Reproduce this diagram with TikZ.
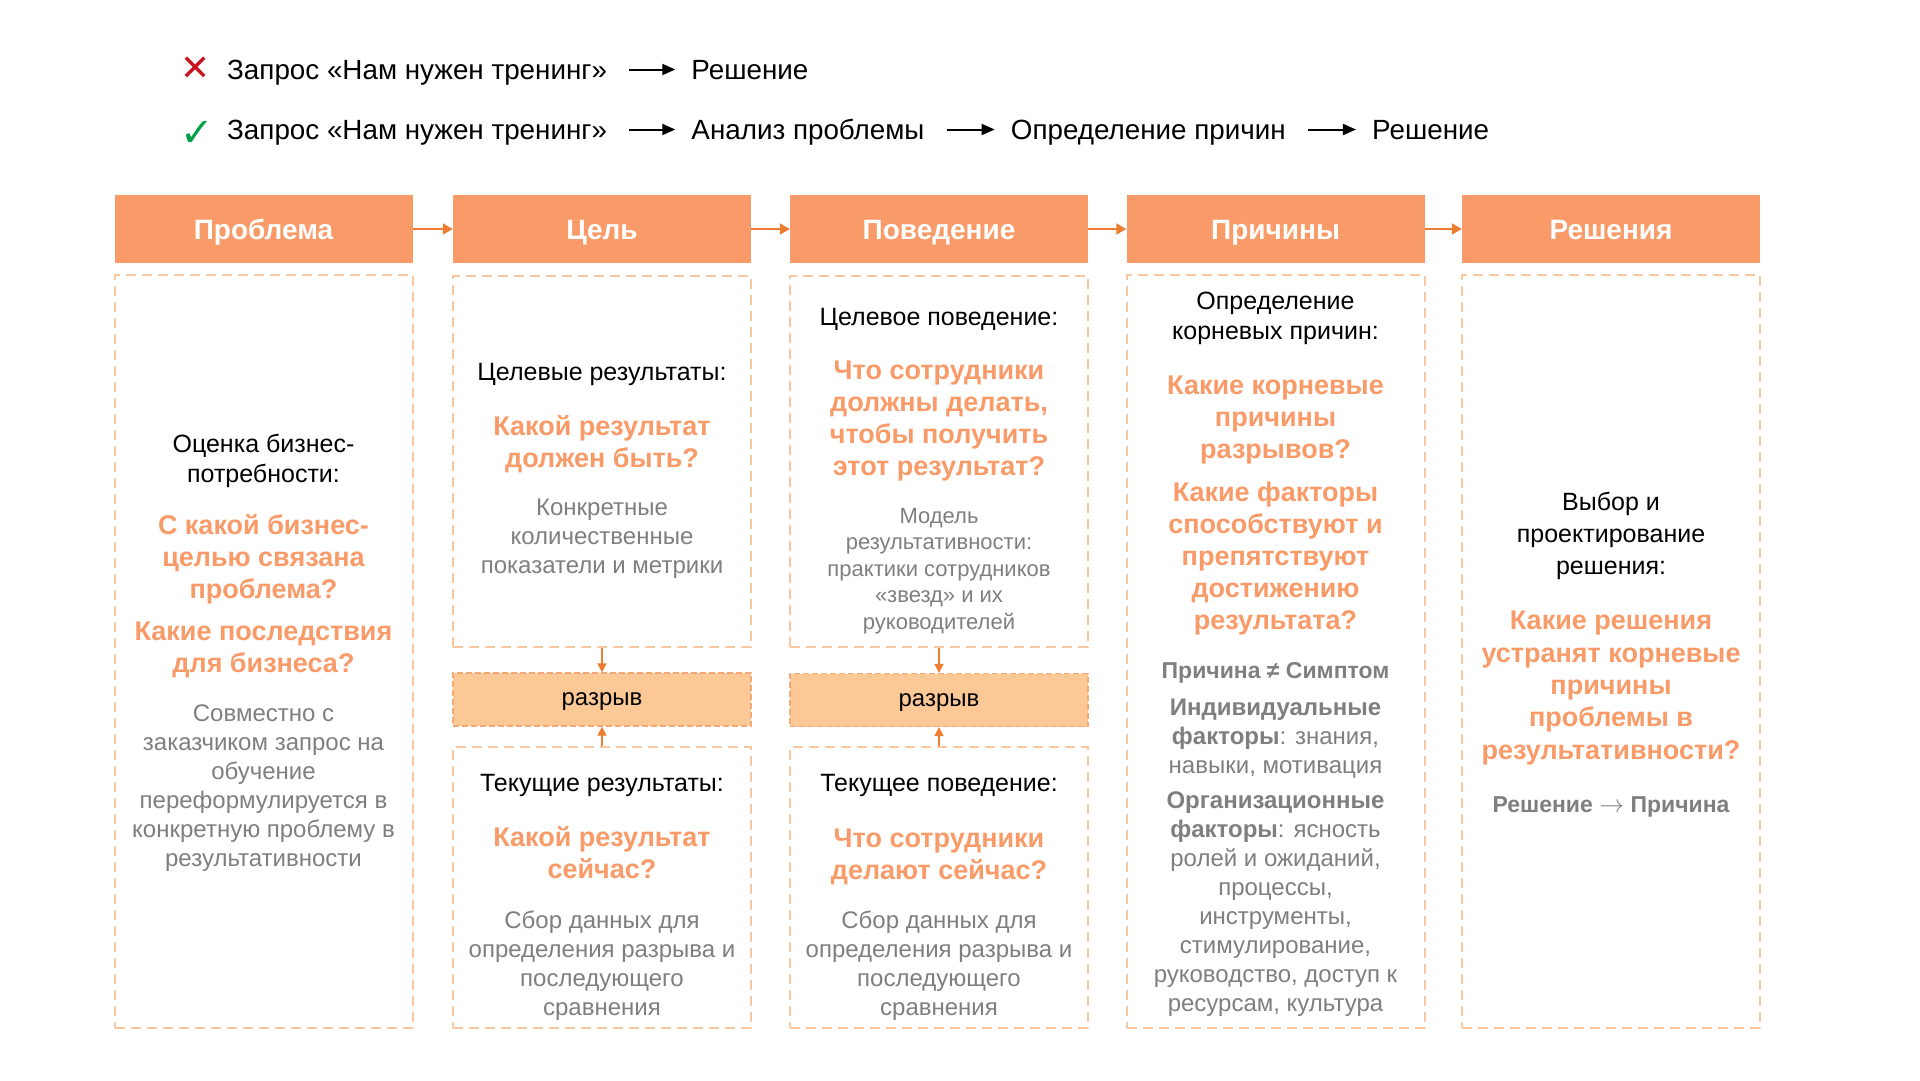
\documentclass[tikz,border=0pt]{standalone}
\usepackage{fontspec}
\setmainfont{Liberation Sans}
\newfontfamily\symfont{DejaVu Sans}
\usetikzlibrary{positioning,arrows.meta}

\definecolor{hdrorange}{RGB}{249,155,104}
\definecolor{askorange}{RGB}{249,155,104}
\definecolor{framecol}{RGB}{250,200,160}
\definecolor{gapfill}{RGB}{252,200,150}
\definecolor{gapline}{RGB}{244,170,120}
\definecolor{arrcol}{RGB}{237,125,49}
\definecolor{notegray}{RGB}{127,127,127}
\definecolor{crossred}{RGB}{200,20,30}
\definecolor{tickgreen}{RGB}{0,160,70}

\begin{document}
\begin{tikzpicture}[x=1pt,y=-1pt]
\tikzset{
  hdr/.style={fill=hdrorange, text=white, font=\bfseries\fontsize{28}{32}\selectfont,
    minimum width=298pt, minimum height=68pt, inner sep=0pt, text height=20pt, text depth=0pt},
  bodybox/.style={draw=framecol, dash pattern=on 10pt off 6pt, line width=2pt,
    minimum width=298pt, inner sep=0pt},
  gapbox/.style={draw=gapline, fill=gapfill, dash pattern=on 6pt off 3pt, line width=1.2pt,
    minimum width=298pt, minimum height=53pt, inner sep=0pt, text height=12.5pt, text depth=0pt,
    font=\fontsize{24}{28}\selectfont},
  lead/.style={align=center, font=\fontsize{25}{30}\selectfont},
  ask/.style={align=center, text=askorange, font=\bfseries\fontsize{27}{32}\selectfont},
  note/.style={align=center, text=notegray, font=\fontsize{24}{29}\selectfont},
  topline/.style={inner sep=0pt, text height=20pt, text depth=0pt, font=\fontsize{27.8}{32}\selectfont},
  toparr/.style={-{Triangle[length=13pt,width=11pt]}, line width=2pt, shorten <=22pt, shorten >=16pt},
  hdrarr/.style={-{Triangle[length=10pt,width=11pt]}, draw=arrcol, line width=2pt},
  gaparr/.style={-{Triangle[length=9pt,width=9pt]}, draw=arrcol, line width=1.5pt}
}
\fill[white] (0,0) rectangle (1920,1080);
\useasboundingbox (0,0) rectangle (1920,1080);

% request lines
\node[text=crossred, inner sep=0pt, font=\symfont\fontsize{36}{40}\selectfont] (no) at (196,69) {✕};
\node[topline, anchor=west] (req1) at (227,69.5) {Запрос «Нам нужен тренинг»};
\node[topline, right=84pt of req1] (sol1) {Решение};
\draw[toparr] (req1) -- (sol1);

\node[text=tickgreen, inner sep=0pt, font=\symfont\fontsize{40}{44}\selectfont] (yes) at (197,134) {✓};
\node[topline, anchor=west] (req2) at (227,129.5) {Запрос «Нам нужен тренинг»};
\node[topline, right=84pt of req2] (anl2) {Анализ проблемы};
\node[topline, right=86pt of anl2] (cau2) {Определение причин};
\node[topline, right=86pt of cau2] (sol2) {Решение};
\draw[toparr] (req2) -- (anl2);
\draw[toparr] (anl2) -- (cau2);
\draw[toparr] (cau2) -- (sol2);

% headers
\node[hdr] (h1) at (263.5,229) {Проблема};
\node[hdr] (h2) at (602,229) {Цель};
\node[hdr] (h3) at (939,229) {Поведение};
\node[hdr] (h4) at (1275.5,229) {Причины};
\node[hdr] (h5) at (1611,229) {Решения};
\draw[hdrarr] (h1) -- (h2);
\draw[hdrarr] (h2) -- (h3);
\draw[hdrarr] (h3) -- (h4);
\draw[hdrarr] (h4) -- (h5);

% frames
\node[bodybox, minimum height=753pt] (b1) at (263.5,651.5) {};
\node[bodybox, minimum height=371pt] (u2) at (602,461.5) {};
\node[gapbox] (g2) at (602,699.5) {разрыв};
\node[bodybox, minimum height=281pt] (l2) at (602,887.5) {};
\node[bodybox, minimum height=371pt] (u3) at (939,461.5) {};
\node[gapbox] (g3) at (939,700) {разрыв};
\node[bodybox, minimum height=281pt] (l3) at (939,887.5) {};
\node[bodybox, minimum height=753pt] (b4) at (1275.5,651.5) {};
\node[bodybox, minimum height=753pt] (b5) at (1611,651.5) {};
\draw[gaparr] (u2) -- (g2);
\draw[gaparr] (l2) -- (g2);
\draw[gaparr] (u3) -- (g3);
\draw[gaparr] (l3) -- (g3);

% problem
\node[lead] (p1) at (263.5,461) {Оценка бизнес-\\потребности:};
\node[ask] (p2) at (263.5,559) {С какой бизнес-\\целью связана\\проблема?};
\node[ask] (p3) at (263.5,650) {Какие последствия\\для бизнеса?};
\node[note] (p4) at (263.5,788) {Совместно с\\заказчиком запрос на\\обучение\\переформулируется в\\конкретную проблему в\\результативности};

% goal
\node[lead] (c1) at (602,374) {Целевые результаты:};
\node[ask] (c2) at (602,444) {Какой результат\\должен быть?};
\node[note] (c3) at (602,539) {Конкретные\\количественные\\показатели и метрики};
\node[lead] (c4) at (602,785) {Текущие результаты:};
\node[ask] (c5) at (602,853) {Какой результат\\сейчас?};
\node[note] (c6) at (602,966) {Сбор данных для\\определения разрыва и\\последующего\\сравнения};

% behaviour
\node[lead] (e1) at (939,319) {Целевое поведение:};
\node[ask] (e2) at (939,421) {Что сотрудники\\должны делать,\\чтобы получить\\этот результат?};
\node[note, font=\fontsize{22}{26.5}\selectfont] (e3) at (939,571) {Модель\\результативности:\\практики сотрудников\\«звезд» и их\\руководителей};
\node[lead] (e4) at (939,785) {Текущее поведение:};
\node[ask] (e5) at (939,857) {Что сотрудники\\делают сейчас?};
\node[note] (e6) at (939,966) {Сбор данных для\\определения разрыва и\\последующего\\сравнения};

% causes
\node[lead] (r1) at (1275.5,318) {Определение\\корневых причин:};
\node[ask] (r2) at (1275.5,420) {Какие корневые\\причины\\разрывов?};
\node[ask] (r3) at (1275.5,559) {Какие факторы\\способствуют и\\препятствуют\\достижению\\результата?};
\node[note, font=\bfseries\fontsize{23}{28}\selectfont] (r4) at (1275.5,673) {Причина ≠ Симптом};
\node[note] (r5) at (1275.5,739) {\textbf{Индивидуальные}\\\textbf{факторы}: знания,\\навыки, мотивация};
\node[note] (r6) at (1275.5,904) {\textbf{Организационные}\\\textbf{факторы}: ясность\\ролей и ожиданий,\\процессы,\\инструменты,\\стимулирование,\\руководство, доступ к\\ресурсам, культура};

% solutions
\node[lead, font=\fontsize{25}{32}\selectfont] (s1) at (1611,536) {Выбор и\\проектирование\\решения:};
\node[ask, font=\bfseries\fontsize{27}{32.5}\selectfont] (s2) at (1611,688) {Какие решения\\устранят корневые\\причины\\проблемы в\\результативности?};
\node[note, font=\bfseries\fontsize{23}{28}\selectfont] (s3) at (1611,807) {Решение $\rightarrow$ Причина};
\end{tikzpicture}
\end{document}
